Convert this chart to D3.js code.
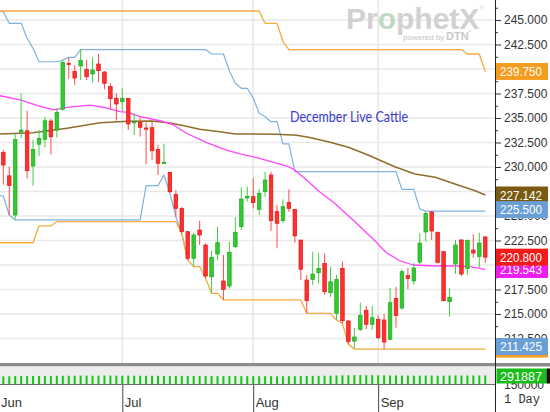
<!DOCTYPE html>
<html>
<head>
<meta charset="utf-8">
<script src="https://cdn.jsdelivr.net/npm/d3@7"></script>
<style>
body { margin: 0; background: #fff; }
svg { display: block; font-family: "Liberation Sans", Arial, sans-serif; }
</style>
</head>
<body>
<svg id="chart" width="550" height="412"></svg>
<script>
// daily candles, index 0 = first visible session (early June)
var opens = [231.5, 229.1, 225.1, 233.57, 233.7, 230.1, 232.32, 232.83, 234.69, 233.77,
  235.89, 240.58, 239.76, 240.31, 239.97, 239.49, 240.51, 239.69, 238.21, 237.01,
  236.66, 237.01, 234.52, 234.56, 233.98, 234.01, 231.8, 230.38, 229.45, 227.21,
  225.78, 223.4, 220.68, 223.57, 222.04, 218.8, 221.12, 218.37, 217.86, 221.87,
  223.91, 226.84, 226.97, 225.68, 227.48, 229.18, 225.44, 224.52, 226.4, 225.68,
  222.55, 218.47, 218.54, 219.21, 220.17, 217.17, 215.07, 219.66, 214.29, 212.24,
  213.44, 215.38, 213.95, 214.46, 214.39, 212.42, 216.58, 215.61, 218.93, 218.37,
  220.3, 223.37, 225.41, 223.34, 221.36, 216.26, 220.1, 222.55, 219.64, 221.53,
  220.87, 222.86]
var highs = [231.73, 230.03, 233.37, 237.52, 235.74, 232.75, 233.77, 235.13, 234.9, 235.99,
  240.92, 241.19, 240.41, 241.98, 240.92, 241.19, 241.53, 239.8, 238.54, 237.52,
  238.03, 237.04, 235.48, 235.13, 234.52, 234.62, 232.24, 232.35, 229.5, 227.65,
  225.92, 223.47, 223.3, 224.52, 222.21, 221.46, 223.91, 221.02, 222.38, 224.87,
  227.93, 227.99, 228.85, 227.72, 229.52, 229.52, 226.12, 226.7, 227.72, 225.71,
  222.55, 218.98, 221.36, 221.19, 221.19, 219.83, 218.98, 220.34, 214.39, 213.6,
  216.15, 215.82, 215.82, 214.87, 214.97, 217.68, 217.76, 219.56, 219.72, 220.2,
  223.23, 225.45, 225.5, 223.42, 221.46, 217.62, 222.55, 222.65, 222.62, 223.13,
  223.3, 222.96]
var lows = [228.2, 225.1, 224.65, 232.93, 228.85, 228.1, 231.12, 232.01, 231.3, 232.99,
  235.75, 238.98, 238.37, 238.88, 238.88, 238.62, 238.67, 237.93, 235.82, 234.72,
  235.64, 233.77, 233.26, 233.09, 230.27, 230.71, 229.18, 230.36, 227.32, 224.93,
  223.23, 220.51, 219.83, 222.04, 218.64, 217.11, 220.51, 216.45, 217.62, 221.7,
  223.57, 226.46, 225.78, 225.1, 226.97, 223.47, 221.7, 224.26, 225.44, 222.28,
  218.47, 215.07, 217.96, 218.13, 216.94, 216.76, 214.39, 214.05, 211.9, 211.45,
  213.27, 213.44, 213.37, 212.42, 211.425, 212.35, 213.6, 215.41, 217.55, 217.96,
  220.1, 222.4, 222.55, 220.17, 216.26, 214.73, 219.08, 218.88, 218.98, 220.74,
  219.74, 220.23]
var closes = [230.2, 228.1, 232.8, 233.77, 229.62, 231.8, 232.93, 234.72, 233.09, 235.58,
  240.68, 240.46, 239.08, 240.87, 239.21, 239.9, 239.83, 238.54, 236.97, 236.43,
  237.01, 234.39, 234.62, 234.05, 233.91, 231.66, 230.38, 230.48, 227.48, 225.78,
  223.4, 220.68, 223.06, 223.06, 218.88, 220.78, 222.28, 217.52, 221.3, 223.34,
  226.73, 227.01, 226.36, 227.32, 228.67, 224.52, 224.26, 225.95, 225.78, 222.96,
  219.56, 216.36, 219.08, 219.66, 217.27, 218.29, 218.54, 214.32, 212.18, 212.65,
  214.87, 213.95, 214.62, 212.58, 212.14, 216.15, 214.85, 219.32, 218.64, 219.69,
  222.24, 225.25, 223.47, 220.24, 216.36, 216.71, 222.04, 219.08, 222.5, 221.22,
  222.24, 220.8]
var volumes = [262000, 265000, 270000, 272000, 271000, 274000, 276000, 275000, 278000, 280000,
  283000, 281000, 284000, 286000, 285000, 283000, 286000, 288000, 287000, 285000,
  284000, 286000, 283000, 282000, 280000, 279000, 281000, 277000, 275000, 276000,
  278000, 277000, 274000, 272000, 275000, 273000, 270000, 268000, 271000, 273000,
  270000, 268000, 266000, 265000, 267000, 264000, 262000, 265000, 268000, 266000,
  270000, 273000, 276000, 279000, 283000, 286000, 290000, 294000, 298000, 301000,
  305000, 303000, 300000, 297000, 295000, 293000, 291000, 288000, 286000, 284000,
  286000, 288000, 285000, 283000, 286000, 288000, 290000, 289000, 291000, 292000,
  290000, 291887]

// moving averages (vertex index, value)
var fastMaIdx = [-0.55, 2.8, 6.2, 8.5, 10.7, 14.6, 17.1, 19.6, 21, 23, 26.3, 28.6, 30.8, 34.2, 37.5, 39.8,
  43.1, 45.7, 47.9, 49, 51.3, 53.2, 55.7, 59.1, 62.2, 64.4, 66.7, 68.9, 72.8, 76.2, 78.4, 81]
var fastMaVal = [237.27, 236.84, 236.19, 235.82, 236.09, 236.31, 236.07, 235.64, 235.58, 235.13, 234.72, 234.29,
  233.44, 232.48, 231.73, 231.33, 230.89, 230.41, 230.03, 229.69, 228.5, 227.45, 226.3, 224.42, 222.62,
  221.25, 220.41, 220.0, 219.9, 219.9, 219.83, 219.543]
var slowMaIdx = [-0.55, 5, 10.7, 16.3, 21, 25, 28, 30, 33, 36.4, 39, 46, 49.3, 51.3, 54.6, 58, 61.3,
  65.8, 69.2, 72.6, 75.9, 79.3, 81]
var slowMaVal = [233.37, 233.5, 233.95, 234.52, 234.67, 234.69, 234.5, 234.25, 233.85, 233.6, 233.37, 233.34,
  233.23, 233.03, 232.58, 232.01, 231.22, 230.03, 229.28, 228.95, 228.26, 227.58, 227.142]

// channels (vertex index, value)
var longHiIdx = [-1, 43, 44, 46, 47, 48, 77, 78, 80, 81]
var longHiVal = [245.92, 245.92, 244.66, 244.66, 242.8, 241.98, 241.98, 241.53, 241.53, 239.75]
var longLoIdx = [-1, 5, 6, 8, 9, 29, 30, 31, 32, 33, 34, 35, 36, 37, 50, 51, 55, 56, 57, 58, 59, 81]
var longLoVal = [222.27, 222.27, 224.0, 224.0, 224.42, 224.42, 223.23, 220.51, 219.83, 219.83, 218.64, 217.11,
  217.11, 216.45, 216.45, 215.07, 215.07, 214.39, 214.05, 211.9, 211.425, 211.425]
var shortHiIdx = [-1, 0, 1, 3, 4, 5, 6, 9, 10, 11, 12, 13, 34, 35, 37, 38, 39, 40, 41, 42, 43, 44, 45, 46,
  47, 48, 49, 66, 67, 69, 70, 71, 81]
var shortHiVal = [245.92, 245.85, 244.66, 244.66, 243.13, 242.1, 240.74, 240.74, 240.92, 241.19, 241.19, 241.98,
  241.98, 241.53, 241.53, 239.8, 238.54, 238.03, 238.03, 237.04, 235.48, 235.13, 234.62, 234.62,
  232.35, 232.35, 229.52, 229.52, 227.72, 227.72, 225.71, 225.5, 225.5]
// from index 30 on the short low band runs under the long one
var shortLoIdx = [-1, 0, 1, 2, 23, 24, 26, 27, 28, 29, 30, 31]
var shortLoVal = [227.1, 227.04, 225.1, 224.6, 224.6, 228.1, 228.1, 229.18, 227.32, 224.93, 223.23, 220.51]

var priceTicks = [212.5, 215, 217.5, 220, 222.5, 225, 227.5, 230, 232.5, 235, 237.5, 240, 242.5, 245]
var coveredTicks = [240, 227.5, 220]
var minorTicks = [211.25, 213.75, 216.25, 218.75, 221.25, 223.75, 226.25, 228.75, 231.25, 233.75, 236.25,
  238.75, 241.25, 243.75, 246.25]
var monthIdx = [-0.8, 20, 42, 63]
var monthNames = ["Jun", "Jul", "Aug", "Sep"]

var svg = d3.select('#chart')
var plotW = 495, plotH = 363

var x = d3.scaleLinear().domain([-0.555, 82.64]).range([0, plotW])
var y = d3.scaleLinear().domain([210, 247.04]).range([plotH, 0])
var v = d3.scaleLinear().domain([0, 615000]).range([384, 366])

svg.append('rect').attr('width', 550).attr('height', 412).attr('fill', '#fff')

svg.append('clipPath').attr('id', 'plotClip')
  .append('rect').attr('width', plotW).attr('height', plotH)

// grid
svg.append('g').selectAll('line')
  .data(priceTicks)
  .enter()
  .append('line')
  .attr('x1', 0).attr('x2', plotW)
  .attr('y1', function (d) { return y(d) })
  .attr('y2', function (d) { return y(d) })
  .attr('stroke', '#e9e9e9')
  .attr('stroke-width', 1.6)

svg.append('g').selectAll('line')
  .data(monthIdx.slice(1))
  .enter()
  .append('line')
  .attr('x1', function (d) { return x(d) })
  .attr('x2', function (d) { return x(d) })
  .attr('y1', 0).attr('y2', plotH)
  .attr('stroke', '#e6e6e6')
  .attr('stroke-width', 1.5)

// watermark
var wm = svg.append('g').attr('opacity', 0.9)
var logo = wm.append('text')
  .attr('x', 346).attr('y', 28.5)
  .attr('font-size', 30).attr('font-weight', 'bold')
  .attr('fill', '#cdcdcd')
logo.append('tspan').text('Pr')
logo.append('tspan').attr('fill', '#b9d6bd').text('o')
logo.append('tspan').text('phetX')
logo.append('tspan').attr('font-size', 6).attr('font-weight', 'normal').attr('dy', -19).text('®')
wm.append('text').attr('x', 403).attr('y', 40).attr('font-size', 8).attr('fill', '#bdbdbd').text('powered by')
var dtn = wm.append('text').attr('x', 446).attr('y', 40).attr('font-size', 11).attr('font-weight', 'bold')
  .attr('fill', '#c4c4c4')
dtn.append('tspan').text('DTN')
dtn.append('tspan').attr('font-size', 6).attr('dy', -6).text('°')

// indicator lines
var plot = svg.append('g').attr('clip-path', 'url(#plotClip)')

function zipPts(idx, vals) {
  return idx.map(function (d, i) { return [d, vals[i]] })
}
var line = d3.line()
  .x(function (d) { return x(d[0]) })
  .y(function (d) { return y(d[1]) })

var series = [
  { pts: zipPts(shortHiIdx, shortHiVal), color: '#7fb1e2', w: 1.2 },
  { pts: zipPts(shortLoIdx, shortLoVal), color: '#7fb1e2', w: 1.2 },
  { pts: zipPts(longHiIdx, longHiVal), color: '#f8aa3c', w: 1.3 },
  { pts: zipPts(longLoIdx, longLoVal), color: '#f8aa3c', w: 1.3 },
  { pts: zipPts(slowMaIdx, slowMaVal), color: '#8f6e2c', w: 1.5 },
  { pts: zipPts(fastMaIdx, fastMaVal), color: '#ff44ff', w: 1.3 }
]
plot.selectAll('path.ind')
  .data(series)
  .enter()
  .append('path')
  .attr('class', 'ind')
  .attr('d', function (d) { return line(d.pts) })
  .attr('fill', 'none')
  .attr('stroke', function (d) { return d.color })
  .attr('stroke-width', function (d) { return d.w })
  .attr('stroke-linejoin', 'round')

// candles
var candles = d3.range(opens.length).map(function (i) {
  return { i: i, o: opens[i], h: highs[i], l: lows[i], c: closes[i], vol: volumes[i] }
})
var up = function (d) { return d.c >= d.o }

var cg = plot.selectAll('g.candle')
  .data(candles)
  .enter()
  .append('g')
  .attr('class', 'candle')

cg.append('line')
  .attr('x1', function (d) { return x(d.i) })
  .attr('x2', function (d) { return x(d.i) })
  .attr('y1', function (d) { return y(d.h) })
  .attr('y2', function (d) { return y(d.l) })
  .attr('stroke', function (d) { return up(d) ? '#3fcf3f' : '#ff4a4a' })
  .attr('stroke-width', 1)

cg.append('rect')
  .attr('x', function (d) { return x(d.i) - 1.8 })
  .attr('y', function (d) { return y(Math.max(d.o, d.c)) })
  .attr('width', 3.6)
  .attr('height', function (d) { return Math.max(1.2, Math.abs(y(d.o) - y(d.c))) })
  .attr('fill', function (d) { return up(d) ? '#2fcb2f' : '#ff3030' })
  .attr('stroke', function (d) { return up(d) ? '#22a822' : '#e01818' })
  .attr('stroke-width', 0.7)

svg.append('text')
  .attr('x', 290).attr('y', 121.5)
  .attr('font-family', 'Lato, "Liberation Sans", sans-serif')
  .attr('font-size', 15)
  .attr('textLength', 118).attr('lengthAdjust', 'spacingAndGlyphs')
  .attr('fill', '#3a3acc')
  .text('December Live Cattle')

// volume panel
svg.append('rect').attr('x', 0).attr('y', 363).attr('width', 550).attr('height', 3.5).attr('fill', '#8c8c8c')
svg.append('rect').attr('x', 0).attr('y', 366.5).attr('width', plotW).attr('height', 17.5).attr('fill', '#ededed')
svg.append('g').selectAll('rect')
  .data(candles)
  .enter()
  .append('rect')
  .attr('x', function (d) { return x(d.i) - 1 })
  .attr('y', function (d) { return v(d.vol) })
  .attr('width', 2)
  .attr('height', function (d) { return 384 - v(d.vol) })
  .attr('fill', '#16c816')
svg.append('line').attr('x1', 0).attr('x2', plotW).attr('y1', 384.5).attr('y2', 384.5)
  .attr('stroke', '#6e6e6e').attr('stroke-width', 1.2)

// time axis
var xAxis = svg.append('g')
  .attr('transform', 'translate(0,385)')
  .call(d3.axisBottom(x)
    .tickValues(monthIdx)
    .tickSize(27)
    .tickFormat(function (d, i) { return monthNames[i] }))
xAxis.select('.domain').remove()
xAxis.selectAll('line').attr('stroke', '#444')
xAxis.selectAll('text')
  .attr('x', 2).attr('y', 13).attr('dy', '0.71em')
  .style('text-anchor', 'start')
  .attr('font-family', '"Liberation Sans", Arial, sans-serif')
  .attr('font-size', 13)
  .attr('fill', '#333')

// price axis
var yMinor = svg.append('g')
  .attr('transform', 'translate(495,0)')
  .call(d3.axisRight(y).tickValues(minorTicks).tickSize(3).tickFormat(''))
yMinor.select('.domain').remove()
yMinor.selectAll('line').attr('stroke', '#333')

var fmt = d3.format('.3f')
var yAxis = svg.append('g')
  .attr('transform', 'translate(495,0)')
  .call(d3.axisRight(y).tickValues(priceTicks).tickSize(6).tickPadding(3)
    .tickFormat(function (d) { return coveredTicks.indexOf(d) >= 0 ? '' : fmt(d) }))
yAxis.select('.domain').remove()
yAxis.selectAll('line').attr('stroke', '#333')
yAxis.selectAll('text')
  .attr('font-family', '"Liberation Sans", Arial, sans-serif')
  .attr('font-size', 12)
  .attr('fill', '#333')

svg.append('text').attr('x', 504).attr('y', 389)
  .attr('font-size', 12).attr('fill', '#333').text('150000')

// last value tags
var tags = [
  { val: 239.75, label: '239.750', color: '#f69c1c', dy: 0 },
  { val: 211.425, label: '', color: '#f69c1c', dy: 0 },
  { val: 211.425, label: '211.425', color: '#6a9fd6', dy: -2.5 },
  { val: 227.142, label: '227.142', color: '#7a5a12', dy: 0 },
  { val: 225.5, label: '225.500', color: '#6a9fd6', dy: -1.5 },
  { val: 219.543, label: '219.543', color: '#ee1cee', dy: 0 },
  { val: 220.8, label: '220.800', color: '#f21a1a', dy: 0 }
]
var tg = svg.append('g').selectAll('g')
  .data(tags)
  .enter()
  .append('g')
  .attr('transform', function (d) { return 'translate(496,' + (y(d.val) + d.dy) + ')' })
tg.append('rect')
  .attr('x', 0).attr('y', -8.5)
  .attr('width', 52).attr('height', 17)
  .attr('fill', function (d) { return d.color })
tg.filter(function (d) { return d.label !== '' })
  .append('text')
  .attr('x', 4).attr('y', 4.6)
  .attr('font-size', 13)
  .attr('textLength', 42).attr('lengthAdjust', 'spacingAndGlyphs')
  .attr('fill', '#fff')
  .text(function (d) { return d.label })

svg.append('rect').attr('x', 496.5).attr('y', 368.5).attr('width', 50).attr('height', 15).attr('fill', '#19bd19')
svg.append('rect').attr('x', 546.5).attr('y', 368.5).attr('width', 3.5).attr('height', 15).attr('fill', '#111')
svg.append('text').attr('x', 500).attr('y', 380.8)
  .attr('font-size', 13).attr('textLength', 42).attr('lengthAdjust', 'spacingAndGlyphs')
  .attr('fill', '#fff').text('291887')

svg.append('line').attr('x1', 495.5).attr('x2', 495.5).attr('y1', 0).attr('y2', 412)
  .attr('stroke', '#222').attr('stroke-width', 1)

svg.append('text').attr('x', 504).attr('y', 403)
  .attr('font-family', '"Liberation Mono", "DejaVu Sans Mono", monospace')
  .attr('font-size', 12).attr('fill', '#333').text('1 Day')
</script>
</body>
</html>
